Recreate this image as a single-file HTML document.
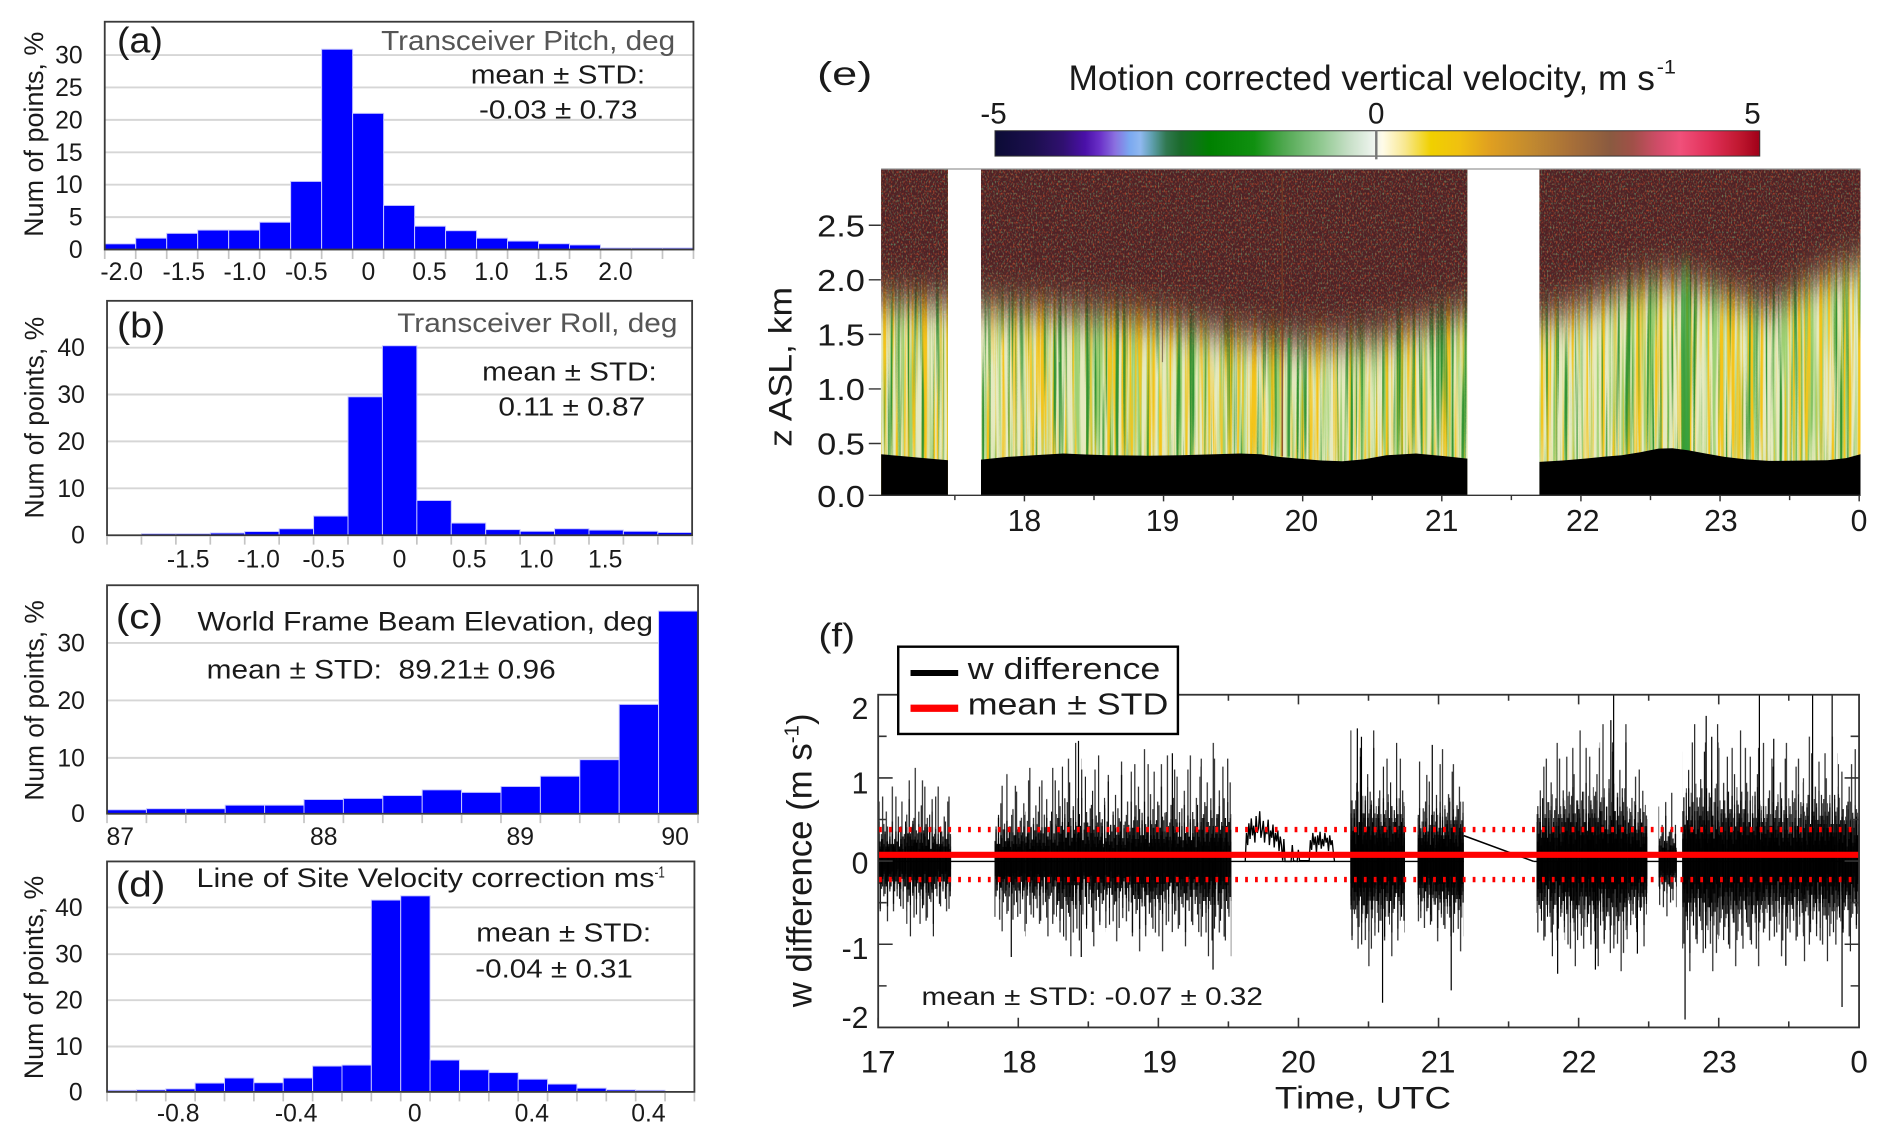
<!DOCTYPE html>
<html><head><meta charset="utf-8"><style>
html,body{margin:0;padding:0;background:#fff;}
svg{display:block;}
text{font-family:"Liberation Sans",Arial,sans-serif;fill:#1a1a1a;}
</style></head><body>
<svg width="1892" height="1142" viewBox="0 0 1568 946" preserveAspectRatio="none" xmlns="http://www.w3.org/2000/svg">
<defs>
<linearGradient id="cb" x1="0" y1="0" x2="1" y2="0">
<stop offset="0" stop-color="#0b0b35"/><stop offset=".051" stop-color="#1c0f4e"/><stop offset=".089" stop-color="#301070"/><stop offset=".118" stop-color="#4a10a8"/><stop offset=".137" stop-color="#6a30c8"/><stop offset=".157" stop-color="#8a70e0"/><stop offset=".176" stop-color="#7aa8f0"/><stop offset=".19" stop-color="#90b8f0"/><stop offset=".205" stop-color="#60a0b0"/><stop offset=".224" stop-color="#307850"/><stop offset=".243" stop-color="#1a6a2a"/><stop offset=".281" stop-color="#008000"/><stop offset=".339" stop-color="#109010"/><stop offset=".378" stop-color="#50a850"/><stop offset=".426" stop-color="#90c890"/><stop offset=".464" stop-color="#c8e0c8"/><stop offset=".495" stop-color="#eef4ee"/><stop offset=".507" stop-color="#fffbe8"/><stop offset=".536" stop-color="#f8e890"/><stop offset=".57" stop-color="#f0d000"/><stop offset=".608" stop-color="#f0c010"/><stop offset=".646" stop-color="#e0a020"/><stop offset=".704" stop-color="#c08830"/><stop offset=".752" stop-color="#a87038"/><stop offset=".805" stop-color="#8a5a40"/><stop offset=".834" stop-color="#a05048"/><stop offset=".867" stop-color="#d04c68"/><stop offset=".896" stop-color="#f0507a"/><stop offset=".935" stop-color="#e03058"/><stop offset=".973" stop-color="#c01830"/><stop offset="1" stop-color="#a00018"/>
</linearGradient>
<linearGradient id="gs" x1="0" y1="0" x2="0" y2="1">
<stop offset="0" stop-color="#2a9a34" stop-opacity="0"/><stop offset="0.25" stop-color="#2a9a34" stop-opacity="0.7"/><stop offset="1" stop-color="#2a9a34" stop-opacity="0.9"/>
</linearGradient>
<clipPath id="hm"><rect x="730.2" y="140.1" width="55.4" height="269.9"/><rect x="813" y="140.1" width="403.1" height="269.9"/><rect x="1275.8" y="140.1" width="266.1" height="269.9"/></clipPath>
<filter id="fY" x="0" y="0" width="1" height="1" color-interpolation-filters="sRGB">
<feTurbulence type="fractalNoise" baseFrequency="0.33 0.005" numOctaves="2" seed="4"/>
<feColorMatrix type="matrix" values="0 0 0 0 0.96  0 0 0 0 0.77  0 0 0 0 0.1  5 0 0 0 -2.4"/>
</filter>
<filter id="fL" x="0" y="0" width="1" height="1" color-interpolation-filters="sRGB">
<feTurbulence type="fractalNoise" baseFrequency="0.3 0.005" numOctaves="2" seed="17"/>
<feColorMatrix type="matrix" values="0 0 0 0 0.62  0 0 0 0 0.82  0 0 0 0 0.45  0 0 5 0 -2.4"/>
</filter>
<filter id="fG" x="0" y="0" width="1" height="1" color-interpolation-filters="sRGB">
<feTurbulence type="fractalNoise" baseFrequency="0.36 0.005" numOctaves="2" seed="11"/>
<feColorMatrix type="matrix" values="0 0 0 0 0.2  0 0 0 0 0.58  0 0 0 0 0.2  0 5 0 0 -2.7"/>
</filter>
<filter id="fS" x="0" y="0" width="1" height="1" color-interpolation-filters="sRGB">
<feTurbulence type="fractalNoise" baseFrequency="0.8 0.5" numOctaves="1" seed="21"/>
<feColorMatrix type="matrix" values="0 0 0 0 0.7  0 0 0 0 0.28  0 0 0 0 0.17  3.5 0 0 0 -1.8"/>
</filter>
<filter id="fS2" x="0" y="0" width="1" height="1" color-interpolation-filters="sRGB">
<feTurbulence type="fractalNoise" baseFrequency="0.8 0.5" numOctaves="1" seed="33"/>
<feColorMatrix type="matrix" values="0 0 0 0 0.38  0 0 0 0 0.52  0 0 0 0 0.38  0 3.5 0 0 -1.9"/>
</filter>
<filter id="blurV" filterUnits="userSpaceOnUse" x="700" y="60" width="900" height="420"><feGaussianBlur stdDeviation="3 16"/></filter>
<mask id="dm" maskUnits="userSpaceOnUse" x="700" y="60" width="900" height="420">
<path fill="#fff" filter="url(#blurV)" d="M700 60 L1600 60 L1600 222 L1542 220 L1525 226 L1508 232 L1490 242 L1475 250 L1466 255 L1450 250 L1435 246 L1420 240 L1405 236 L1390 234 L1374 234 L1358 238 L1344 242 L1328 248 L1313 254 L1295 260 L1276 264 L1246 264 L1216 260 L1200 264 L1180 270 L1160 276 L1140 281 L1110 284 L1080 284 L1050 282 L1020 278 L990 272 L960 267 L930 263 L900 261 L870 258 L840 256 L813 255 L800 253 L786 252 L760 251 L730 250 L700 250 Z"/>
</mask>
<clipPath id="fc"><rect x="727.8" y="575.5" width="812.9" height="275.6"/></clipPath>
<pattern id="P" patternUnits="userSpaceOnUse" x="0" y="0" width="19" height="946">
<path d="M0.5 689.5V734.3M1.5 672.3V730.8M2.5 699.8V751.5M3.5 651.6V741.2M4.5 692.9V765.3M5.5 682.6V727.4M6.5 630.9V737.7M7.5 696.4V779.1M8.5 675.7V734.3M9.5 692.9V748.1M10.5 661.9V730.8M11.5 699.8V758.4M12.5 644.7V744.6M13.5 686V796.3M14.5 696.4V734.3M15.5 668.8V751.5M16.5 689.5V730.8M17.5 610.2V741.2M18.5 692.9V772.2" stroke="#000" stroke-width="0.85"/>
</pattern>
<pattern id="Q" patternUnits="userSpaceOnUse" x="0" y="0" width="11" height="946">
<path d="M0.5 679.2V755M1.5 703.3V737.7M2.5 658.5V727.4M3.5 692.9V782.5M4.5 682.6V744.6M5.5 624V734.3M6.5 699.8V761.8M7.5 675.7V724M8.5 696.4V748.1M9.5 665.4V775.6M10.5 689.5V730.8" stroke="#000" stroke-width="0.85"/>
</pattern>
<pattern id="R" patternUnits="userSpaceOnUse" x="0" y="0" width="23" height="946">
<path d="M0.5 692.9V741.2M1.5 682.6V730.8M2.5 699.8V748.1M3.5 675.7V737.7M4.5 689.5V734.3M5.5 696.4V754.9M6.5 679.2V741.2M7.5 686V727.4M8.5 672.3V744.6M9.5 696.4V737.7M10.5 689.5V751.5M11.5 679.2V730.8M12.5 699.8V741.2M13.5 682.6V748.1M14.5 692.9V730.8M15.5 675.7V744.6M16.5 686V734.3M17.5 696.4V751.5M18.5 682.6V737.7M19.5 689.5V727.4M20.5 672.3V748.1M21.5 692.9V741.2M22.5 686V734.3" stroke="#000" stroke-width="0.85"/>
</pattern>
<pattern id="S" patternUnits="userSpaceOnUse" x="0" y="0" width="17" height="946">
<path d="M0.5 675.7V744.6M1.5 665.4V737.7M2.5 686V758.4M3.5 658.5V748.1M4.5 682.6V765.3M5.5 672.3V741.2M6.5 689.5V751.5M7.5 661.9V754.9M8.5 679.2V737.7M9.5 668.8V761.8M10.5 686V744.6M11.5 655V748.1M12.5 675.7V768.7M13.5 682.6V741.2M14.5 665.4V751.5M15.5 679.2V758.4M16.5 672.3V744.6" stroke="#000" stroke-width="0.6"/>
</pattern>
</defs>

<rect x="0" y="0" width="1568" height="946" fill="#fff"/>

<!-- ============ Panel (a) ============ -->
<g stroke="#d6d6d6" stroke-width="1.6">
<path d="M86.8 179.85H574.7M86.8 153H574.7M86.8 126.15H574.7M86.8 99.3H574.7M86.8 72.45H574.7M86.8 45.6H574.7"/>
</g>
<g fill="#0000ff" stroke="#c8c8ff" stroke-width="0.8">
<rect x="86.8" y="202" width="25.68" height="4.7"/><rect x="112.48" y="197.3" width="25.68" height="9.4"/><rect x="138.16" y="193.3" width="25.68" height="13.4"/><rect x="163.84" y="190.6" width="25.68" height="16.1"/><rect x="189.52" y="190.6" width="25.68" height="16.1"/><rect x="215.2" y="184.1" width="25.68" height="22.6"/><rect x="240.88" y="150.3" width="25.68" height="56.4"/><rect x="266.56" y="40.8" width="25.68" height="165.9"/><rect x="292.24" y="93.9" width="25.68" height="112.8"/><rect x="317.92" y="170.2" width="25.68" height="36.5"/><rect x="343.6" y="187.4" width="25.68" height="19.3"/><rect x="369.28" y="191.1" width="25.68" height="15.6"/><rect x="394.96" y="197.3" width="25.68" height="9.4"/><rect x="420.64" y="199.7" width="25.68" height="7"/><rect x="446.32" y="201.9" width="25.68" height="4.8"/><rect x="472" y="202.9" width="25.68" height="3.8"/><rect x="497.68" y="205.4" width="25.68" height="1.3"/><rect x="523.36" y="205.4" width="25.68" height="1.3"/><rect x="549.04" y="205.4" width="25.68" height="1.3"/>
</g>
<rect x="86.8" y="18" width="487.9" height="188.7" fill="none" stroke="#3a3a3a" stroke-width="1.5"/>
<path d="M86.8 207.5v7M112.48 207.5v7M138.16 207.5v7M163.84 207.5v7M189.52 207.5v7M215.2 207.5v7M240.88 207.5v7M266.56 207.5v7M292.24 207.5v7M317.92 207.5v7M343.6 207.5v7M369.28 207.5v7M394.96 207.5v7M420.64 207.5v7M446.32 207.5v7M472 207.5v7M497.68 207.5v7M523.36 207.5v7M549.04 207.5v7M574.72 207.5v7" stroke="#c4c4c4" stroke-width="1.4"/>
<g font-size="20.5" text-anchor="end">
<text x="68.5" y="213.7">0</text><text x="68.5" y="186.9">5</text><text x="68.5" y="160">10</text><text x="68.5" y="133.2">15</text><text x="68.5" y="106.3">20</text><text x="68.5" y="79.5">25</text><text x="68.5" y="52.6">30</text>
</g>
<g font-size="20.5" text-anchor="middle">
<text x="100.9" y="232">-2.0</text><text x="152.3" y="232">-1.5</text><text x="202.9" y="232">-1.0</text><text x="253.9" y="232">-0.5</text><text x="305.3" y="232">0</text><text x="355.9" y="232">0.5</text><text x="407.3" y="232">1.0</text><text x="456.7" y="232">1.5</text><text x="510" y="232">2.0</text>
</g>
<text transform="translate(35.5 111.2) rotate(-90)" font-size="22" text-anchor="middle" textLength="170" lengthAdjust="spacingAndGlyphs">Num of points, %</text>
<text x="97" y="43.4" font-size="30" textLength="38" lengthAdjust="spacingAndGlyphs">(a)</text>
<text x="315.9" y="41.4" font-size="23" style="fill:#555" textLength="243.6" lengthAdjust="spacingAndGlyphs">Transceiver Pitch, deg</text>
<text x="390.1" y="69.1" font-size="21.5" textLength="144.6" lengthAdjust="spacingAndGlyphs">mean ± STD:</text>
<text x="397" y="98.1" font-size="21.5" textLength="131.3" lengthAdjust="spacingAndGlyphs">-0.03 ± 0.73</text>

<!-- ============ Panel (b) ============ -->
<g stroke="#d6d6d6" stroke-width="1.6">
<path d="M88.7 404.5H573.6M88.7 365.6H573.6M88.7 326.8H573.6M88.7 288H573.6"/>
</g>
<g fill="#0000ff" stroke="#c8c8ff" stroke-width="0.8">
<rect x="117.23" y="442.1" width="28.53" height="1.3"/><rect x="145.76" y="442.1" width="28.53" height="1.3"/><rect x="174.29" y="441.5" width="28.53" height="1.9"/><rect x="202.82" y="440.3" width="28.53" height="3.1"/><rect x="231.35" y="438" width="28.53" height="5.4"/><rect x="259.88" y="427.5" width="28.53" height="15.9"/><rect x="288.41" y="328.7" width="28.53" height="114.7"/><rect x="316.94" y="286.4" width="28.53" height="157"/><rect x="345.47" y="414.6" width="28.53" height="28.8"/><rect x="374" y="433.3" width="28.53" height="10.1"/><rect x="402.53" y="438.7" width="28.53" height="4.7"/><rect x="431.06" y="440.1" width="28.53" height="3.3"/><rect x="459.59" y="438" width="28.53" height="5.4"/><rect x="488.12" y="439.1" width="28.53" height="4.3"/><rect x="516.65" y="440.1" width="28.53" height="3.3"/><rect x="545.18" y="441.1" width="28.53" height="2.3"/>
</g>
<rect x="88.7" y="249.2" width="484.9" height="194.2" fill="none" stroke="#3a3a3a" stroke-width="1.5"/>
<path d="M88.7 444.2v7M117.23 444.2v7M145.76 444.2v7M174.29 444.2v7M202.82 444.2v7M231.35 444.2v7M259.88 444.2v7M288.41 444.2v7M316.94 444.2v7M345.47 444.2v7M374 444.2v7M402.53 444.2v7M431.06 444.2v7M459.59 444.2v7M488.12 444.2v7M516.65 444.2v7M545.18 444.2v7M573.71 444.2v7" stroke="#c4c4c4" stroke-width="1.4"/>
<g font-size="20.5" text-anchor="end">
<text x="70.4" y="450.4">0</text><text x="70.4" y="411.5">10</text><text x="70.4" y="372.6">20</text><text x="70.4" y="333.8">30</text><text x="70.4" y="295">40</text>
</g>
<g font-size="20.5" text-anchor="middle">
<text x="156" y="470">-1.5</text><text x="214.3" y="470">-1.0</text><text x="268.3" y="470">-0.5</text><text x="331.1" y="470">0</text><text x="389" y="470">0.5</text><text x="444.5" y="470">1.0</text><text x="501.6" y="470">1.5</text>
</g>
<text transform="translate(36 346) rotate(-90)" font-size="22" text-anchor="middle" textLength="167" lengthAdjust="spacingAndGlyphs">Num of points, %</text>
<text x="97" y="279.6" font-size="30" textLength="40" lengthAdjust="spacingAndGlyphs">(b)</text>
<text x="329.2" y="274.9" font-size="22" style="fill:#555" textLength="232.2" lengthAdjust="spacingAndGlyphs">Transceiver Roll, deg</text>
<text x="399.6" y="315" font-size="21.5" textLength="144.7" lengthAdjust="spacingAndGlyphs">mean ± STD:</text>
<text x="413" y="344" font-size="21.5" textLength="121.7" lengthAdjust="spacingAndGlyphs">0.11 ± 0.87</text>

<!-- ============ Panel (c) ============ -->
<g stroke="#d6d6d6" stroke-width="1.6">
<path d="M88.7 627.8H578.5M88.7 580.2H578.5M88.7 532.6H578.5"/>
</g>
<g fill="#0000ff" stroke="#c8c8ff" stroke-width="0.8">
<rect x="88.7" y="670.8" width="32.65" height="3.3"/><rect x="121.35" y="669.9" width="32.65" height="4.2"/><rect x="154" y="669.9" width="32.65" height="4.2"/><rect x="186.65" y="667" width="32.65" height="7.1"/><rect x="219.3" y="667" width="32.65" height="7.1"/><rect x="251.95" y="662.3" width="32.65" height="11.8"/><rect x="284.6" y="661.4" width="32.65" height="12.7"/><rect x="317.25" y="659" width="32.65" height="15.1"/><rect x="349.9" y="654.3" width="32.65" height="19.8"/><rect x="382.55" y="656.4" width="32.65" height="17.7"/><rect x="415.2" y="651.5" width="32.65" height="22.6"/><rect x="447.85" y="643" width="32.65" height="31.1"/><rect x="480.5" y="629.3" width="32.65" height="44.8"/><rect x="513.15" y="583.5" width="32.65" height="90.6"/><rect x="545.8" y="506.2" width="32.65" height="167.9"/>
</g>
<rect x="88.7" y="484.8" width="489.8" height="189.3" fill="none" stroke="#3a3a3a" stroke-width="1.5"/>
<path d="M88.7 674.9v7M121.35 674.9v7M154 674.9v7M186.65 674.9v7M219.3 674.9v7M251.95 674.9v7M284.6 674.9v7M317.25 674.9v7M349.9 674.9v7M382.55 674.9v7M415.2 674.9v7M447.85 674.9v7M480.5 674.9v7M513.15 674.9v7M545.8 674.9v7M578.45 674.9v7" stroke="#c4c4c4" stroke-width="1.4"/>
<g font-size="20.5" text-anchor="end">
<text x="70.4" y="681.1">0</text><text x="70.4" y="634.8">10</text><text x="70.4" y="587.2">20</text><text x="70.4" y="539.6">30</text>
</g>
<g font-size="20.5" text-anchor="middle">
<text x="99.7" y="700">87</text><text x="268.3" y="700">88</text><text x="431.2" y="700">89</text><text x="559.5" y="700">90</text>
</g>
<text transform="translate(36 580.2) rotate(-90)" font-size="22" text-anchor="middle" textLength="166" lengthAdjust="spacingAndGlyphs">Num of points, %</text>
<text x="96" y="520.5" font-size="29" textLength="39" lengthAdjust="spacingAndGlyphs">(c)</text>
<text x="163.7" y="522.1" font-size="22.5" textLength="377.5" lengthAdjust="spacingAndGlyphs">World Frame Beam Elevation, deg</text>
<text x="171.3" y="562.2" font-size="22" textLength="289.2" lengthAdjust="spacingAndGlyphs" xml:space="preserve">mean ± STD:  89.21± 0.96</text>

<!-- ============ Panel (d) ============ -->
<g stroke="#d6d6d6" stroke-width="1.6">
<path d="M88.7 866.9H575.5M88.7 828.5H575.5M88.7 790.4H575.5M88.7 751.7H575.5"/>
</g>
<g fill="#0000ff" stroke="#c8c8ff" stroke-width="0.8">
<rect x="88.7" y="903.2" width="24.34" height="1.3"/><rect x="113.04" y="902.8" width="24.34" height="1.7"/><rect x="137.38" y="902" width="24.34" height="2.5"/><rect x="161.72" y="897.2" width="24.34" height="7.3"/><rect x="186.06" y="893" width="24.34" height="11.5"/><rect x="210.4" y="896.9" width="24.34" height="7.6"/><rect x="234.74" y="893" width="24.34" height="11.5"/><rect x="259.08" y="883.1" width="24.34" height="21.4"/><rect x="283.42" y="882.3" width="24.34" height="22.2"/><rect x="307.76" y="745.6" width="24.34" height="158.9"/><rect x="332.1" y="742.1" width="24.34" height="162.4"/><rect x="356.44" y="878.1" width="24.34" height="26.4"/><rect x="380.78" y="886.2" width="24.34" height="18.3"/><rect x="405.12" y="888.5" width="24.34" height="16"/><rect x="429.46" y="894" width="24.34" height="10.5"/><rect x="453.8" y="898" width="24.34" height="6.5"/><rect x="478.14" y="901.4" width="24.34" height="3.1"/><rect x="502.48" y="902.8" width="24.34" height="1.7"/><rect x="526.82" y="903.2" width="24.34" height="1.3"/>
</g>
<rect x="88.7" y="713.6" width="486.8" height="190.9" fill="none" stroke="#3a3a3a" stroke-width="1.5"/>
<path d="M88.7 905.3v7M113.04 905.3v7M137.38 905.3v7M161.72 905.3v7M186.06 905.3v7M210.4 905.3v7M234.74 905.3v7M259.08 905.3v7M283.42 905.3v7M307.76 905.3v7M332.1 905.3v7M356.44 905.3v7M380.78 905.3v7M405.12 905.3v7M429.46 905.3v7M453.8 905.3v7M478.14 905.3v7M502.48 905.3v7M526.82 905.3v7M551.16 905.3v7M575.5 905.3v7" stroke="#c4c4c4" stroke-width="1.4"/>
<g font-size="20.5" text-anchor="end">
<text x="68.5" y="911.5">0</text><text x="68.5" y="873.9">10</text><text x="68.5" y="835.5">20</text><text x="68.5" y="797.4">30</text><text x="68.5" y="758.7">40</text>
</g>
<g font-size="20.5" text-anchor="middle">
<text x="147.7" y="929">-0.8</text><text x="245.5" y="929">-0.4</text><text x="343.7" y="929">0</text><text x="440.7" y="929">0.4</text><text x="537.4" y="929">0.4</text>
</g>
<text transform="translate(35.5 809.7) rotate(-90)" font-size="22" text-anchor="middle" textLength="168.6" lengthAdjust="spacingAndGlyphs">Num of points, %</text>
<text x="96" y="742.6" font-size="30" textLength="41" lengthAdjust="spacingAndGlyphs">(d)</text>
<text x="162.9" y="734.6" font-size="22" textLength="379.5" lengthAdjust="spacingAndGlyphs">Line of Site Velocity correction ms</text>
<text x="542.4" y="727" font-size="13" textLength="8.5" lengthAdjust="spacingAndGlyphs">-1</text>
<text x="394.7" y="780.1" font-size="21.5" textLength="145" lengthAdjust="spacingAndGlyphs">mean ± STD:</text>
<text x="393.9" y="809.7" font-size="21.5" textLength="130.6" lengthAdjust="spacingAndGlyphs">-0.04 ± 0.31</text>

<!-- ============ Panel (e) ============ -->
<text x="677.2" y="70.5" font-size="28" textLength="45.7" lengthAdjust="spacingAndGlyphs">(e)</text>
<text x="885.5" y="74.5" font-size="29" textLength="486" lengthAdjust="spacingAndGlyphs">Motion corrected vertical velocity, m s</text>
<text x="1373" y="61" font-size="16" textLength="16" lengthAdjust="spacingAndGlyphs">-1</text>
<g font-size="24.5" text-anchor="middle">
<text x="823.4" y="102.5">-5</text><text x="1140.6" y="102.5">0</text><text x="1452.4" y="102.5">5</text>
</g>
<rect x="824.6" y="108.3" width="633.8" height="21" fill="url(#cb)" stroke="#333" stroke-width="0.8"/>
<path d="M1140.6 108.3V132" stroke="#777" stroke-width="2"/>

<g clip-path="url(#hm)">
<rect x="730" y="140" width="812" height="270" fill="#e6eac0"/>
<rect x="730" y="140" width="812" height="270" fill="#000" filter="url(#fL)"/>
<rect x="730" y="140" width="812" height="270" fill="#000" filter="url(#fY)"/>
<rect x="730" y="140" width="812" height="270" fill="#000" filter="url(#fG)"/>
<g mask="url(#dm)">
<rect x="730" y="140" width="812" height="270" fill="#4f2226"/>
<rect x="730" y="140" width="812" height="270" fill="#000" filter="url(#fS)"/>
<rect x="730" y="140" width="812" height="270" fill="#000" filter="url(#fS2)"/>
</g>
<rect x="1393.5" y="205" width="7" height="170" fill="url(#gs)"/>
<path d="M1068 280V378" stroke="#2f8f3a" stroke-width="2" opacity="0.8"/>
<path d="M878.2 300V378" stroke="#2f8f3a" stroke-width="1.5" opacity="0.7"/>
<path d="M1062.7 145V378" stroke="#7a3a22" stroke-width="1.3" opacity="0.8"/>
<path d="M963.4 250V300" stroke="#5a3a30" stroke-width="1" opacity="0.6"/>
<path fill="#000" d="M730.2 410 L730.2 376.3 L750 378 L771.6 380 L786 381.3 L813 380.7 L835 378.5 L856.9 377.1 L881.2 375.7 L900 376.5 L917.8 377.1 L950 377.5 L978.6 377.1 L1000 376.5 L1027.4 375.7 L1045 376.3 L1060 378.5 L1076.1 379.9 L1095 381.5 L1112.6 382.1 L1130 380.5 L1149.1 377.1 L1173.5 375.7 L1197.8 377.9 L1216.1 379.9 L1275.8 382.6 L1295 381.5 L1313.5 379.9 L1330 378.3 L1344 377.1 L1360 374.5 L1374.4 371.6 L1386 371.3 L1398.8 373 L1414 375.8 L1429.2 378.5 L1447 380.5 L1465.8 381.8 L1490 381.6 L1514.5 381.3 L1530 379.5 L1541.9 376.3 L1541.9 410 Z"/>
</g>
<path d="M730.2 140H1542" stroke="#999" stroke-width="1"/>
<path d="M720 410.3H1542" stroke="#333" stroke-width="1.2"/>
<path d="M849 410.3v5M964.3 410.3v5M1079.6 410.3v5M1194.9 410.3v5M1310.2 410.3v5M1425.5 410.3v5M1540.8 410.3v5M791.35 410.3v4M906.65 410.3v4M1021.95 410.3v4M1137.25 410.3v4M1252.55 410.3v4M1367.85 410.3v4M1483.15 410.3v4" stroke="#333" stroke-width="1.2"/>
<path d="M720 186.6H730M720 231.8H730M720 277H730M720 322.2H730M720 367.4H730" stroke="#333" stroke-width="1.2"/>
<g font-size="25" text-anchor="end">
<text x="716.8" y="195.8" textLength="39.6" lengthAdjust="spacingAndGlyphs">2.5</text>
<text x="716.8" y="241" textLength="39.6" lengthAdjust="spacingAndGlyphs">2.0</text>
<text x="716.8" y="286.2" textLength="39.6" lengthAdjust="spacingAndGlyphs">1.5</text>
<text x="716.8" y="331.4" textLength="39.6" lengthAdjust="spacingAndGlyphs">1.0</text>
<text x="716.8" y="376.6" textLength="39.6" lengthAdjust="spacingAndGlyphs">0.5</text>
<text x="716.8" y="419.9" textLength="39.6" lengthAdjust="spacingAndGlyphs">0.0</text>
</g>
<g font-size="25" text-anchor="middle">
<text x="849" y="440">18</text><text x="963.4" y="440">19</text><text x="1078.5" y="440">20</text><text x="1194.8" y="440">21</text><text x="1311.7" y="440">22</text><text x="1426.2" y="440">23</text><text x="1540.7" y="440">0</text>
</g>
<text transform="translate(655.9 303.9) rotate(-90)" font-size="27" text-anchor="middle" textLength="132.6" lengthAdjust="spacingAndGlyphs">z ASL, km</text>

<!-- ============ Panel (f) ============ -->
<text x="678.3" y="535.4" font-size="28" textLength="30.3" lengthAdjust="spacingAndGlyphs">(f)</text>

<g clip-path="url(#fc)">
<path d="M727.8 713.6H1213.1M1271.1 713.6H1540.7" stroke="#000" stroke-width="1.2"/>
<path d="M1213.1 692.2L1271.1 713.6" stroke="#000" stroke-width="1.3"/>
<g transform="translate(0 285.44) scale(1 0.6)"><rect x="727.8" y="0" width="23.2" height="946" fill="url(#P)"/><rect x="727.8" y="0" width="23.2" height="946" fill="url(#Q)"/><rect x="727.8" y="0" width="23.2" height="946" fill="url(#R)"/></g>
<g transform="translate(0 178.4) scale(1 0.75)"><rect x="751" y="0" width="23.2" height="946" fill="url(#P)"/><rect x="751" y="0" width="23.2" height="946" fill="url(#Q)"/><rect x="751" y="0" width="23.2" height="946" fill="url(#R)"/></g>
<g transform="translate(0 285.44) scale(1 0.6)"><rect x="774.2" y="0" width="14" height="946" fill="url(#P)"/><rect x="774.2" y="0" width="14" height="946" fill="url(#Q)"/><rect x="774.2" y="0" width="14" height="946" fill="url(#R)"/></g>
<g transform="translate(0 214.08) scale(1 0.7)"><rect x="824.2" y="0" width="25.5" height="946" fill="url(#P)"/><rect x="824.2" y="0" width="25.5" height="946" fill="url(#Q)"/><rect x="824.2" y="0" width="25.5" height="946" fill="url(#R)"/></g>
<g transform="translate(0 178.4) scale(1 0.75)"><rect x="849.7" y="0" width="25.6" height="946" fill="url(#P)"/><rect x="849.7" y="0" width="25.6" height="946" fill="url(#Q)"/><rect x="849.7" y="0" width="25.6" height="946" fill="url(#R)"/></g>
<g transform="translate(0 35.68) scale(1 0.95)"><rect x="875.3" y="0" width="20.9" height="946" fill="url(#P)"/><rect x="875.3" y="0" width="20.9" height="946" fill="url(#Q)"/><rect x="875.3" y="0" width="20.9" height="946" fill="url(#R)"/></g>
<g transform="translate(0 107.04) scale(1 0.85)"><rect x="896.1" y="0" width="19.8" height="946" fill="url(#P)"/><rect x="896.1" y="0" width="19.8" height="946" fill="url(#Q)"/><rect x="896.1" y="0" width="19.8" height="946" fill="url(#R)"/></g>
<g transform="translate(0 142.72) scale(1 0.8)"><rect x="915.9" y="0" width="20.9" height="946" fill="url(#P)"/><rect x="915.9" y="0" width="20.9" height="946" fill="url(#Q)"/><rect x="915.9" y="0" width="20.9" height="946" fill="url(#R)"/></g>
<g transform="translate(0 71.36) scale(1 0.9)"><rect x="936.8" y="0" width="29" height="946" fill="url(#P)"/><rect x="936.8" y="0" width="29" height="946" fill="url(#Q)"/><rect x="936.8" y="0" width="29" height="946" fill="url(#R)"/></g>
<g transform="translate(0 107.04) scale(1 0.85)"><rect x="965.8" y="0" width="29" height="946" fill="url(#P)"/><rect x="965.8" y="0" width="29" height="946" fill="url(#Q)"/><rect x="965.8" y="0" width="29" height="946" fill="url(#R)"/></g>
<g transform="translate(0 35.68) scale(1 0.95)"><rect x="994.8" y="0" width="25.6" height="946" fill="url(#P)"/><rect x="994.8" y="0" width="25.6" height="946" fill="url(#Q)"/><rect x="994.8" y="0" width="25.6" height="946" fill="url(#R)"/></g>
<g transform="translate(0 -35.68) scale(1 1.05)"><rect x="1119.1" y="0" width="20.9" height="946" fill="url(#P)"/><rect x="1119.1" y="0" width="20.9" height="946" fill="url(#Q)"/><rect x="1119.1" y="0" width="20.9" height="946" fill="url(#R)"/><rect x="1119.1" y="0" width="20.9" height="946" fill="url(#S)"/></g>
<g transform="translate(0 35.68) scale(1 0.95)"><rect x="1140" y="0" width="24.4" height="946" fill="url(#P)"/><rect x="1140" y="0" width="24.4" height="946" fill="url(#Q)"/><rect x="1140" y="0" width="24.4" height="946" fill="url(#R)"/><rect x="1140" y="0" width="24.4" height="946" fill="url(#S)"/></g>
<g transform="translate(0 142.72) scale(1 0.8)"><rect x="1174.8" y="0" width="17.4" height="946" fill="url(#P)"/><rect x="1174.8" y="0" width="17.4" height="946" fill="url(#Q)"/><rect x="1174.8" y="0" width="17.4" height="946" fill="url(#R)"/><rect x="1174.8" y="0" width="17.4" height="946" fill="url(#S)"/></g>
<g transform="translate(0 71.36) scale(1 0.9)"><rect x="1192.2" y="0" width="20.9" height="946" fill="url(#P)"/><rect x="1192.2" y="0" width="20.9" height="946" fill="url(#Q)"/><rect x="1192.2" y="0" width="20.9" height="946" fill="url(#R)"/><rect x="1192.2" y="0" width="20.9" height="946" fill="url(#S)"/></g>
<g transform="translate(0 35.68) scale(1 0.95)"><rect x="1273.5" y="0" width="23.2" height="946" fill="url(#P)"/><rect x="1273.5" y="0" width="23.2" height="946" fill="url(#Q)"/><rect x="1273.5" y="0" width="23.2" height="946" fill="url(#R)"/><rect x="1273.5" y="0" width="23.2" height="946" fill="url(#S)"/></g>
<g transform="translate(0 -35.68) scale(1 1.05)"><rect x="1296.7" y="0" width="29" height="946" fill="url(#P)"/><rect x="1296.7" y="0" width="29" height="946" fill="url(#Q)"/><rect x="1296.7" y="0" width="29" height="946" fill="url(#R)"/><rect x="1296.7" y="0" width="29" height="946" fill="url(#S)"/></g>
<g transform="translate(0 -71.36) scale(1 1.1)"><rect x="1325.7" y="0" width="23.3" height="946" fill="url(#P)"/><rect x="1325.7" y="0" width="23.3" height="946" fill="url(#Q)"/><rect x="1325.7" y="0" width="23.3" height="946" fill="url(#R)"/><rect x="1325.7" y="0" width="23.3" height="946" fill="url(#S)"/></g>
<g transform="translate(0 107.04) scale(1 0.85)"><rect x="1349" y="0" width="16.2" height="946" fill="url(#P)"/><rect x="1349" y="0" width="16.2" height="946" fill="url(#Q)"/><rect x="1349" y="0" width="16.2" height="946" fill="url(#R)"/><rect x="1349" y="0" width="16.2" height="946" fill="url(#S)"/></g>
<g transform="translate(0 321.12) scale(1 0.55)"><rect x="1374.5" y="0" width="15.1" height="946" fill="url(#P)"/><rect x="1374.5" y="0" width="15.1" height="946" fill="url(#Q)"/><rect x="1374.5" y="0" width="15.1" height="946" fill="url(#R)"/></g>
<g transform="translate(0 -71.36) scale(1 1.1)"><rect x="1394.2" y="0" width="30.2" height="946" fill="url(#P)"/><rect x="1394.2" y="0" width="30.2" height="946" fill="url(#Q)"/><rect x="1394.2" y="0" width="30.2" height="946" fill="url(#R)"/><rect x="1394.2" y="0" width="30.2" height="946" fill="url(#S)"/></g>
<g transform="translate(0 -35.68) scale(1 1.05)"><rect x="1424.4" y="0" width="34.8" height="946" fill="url(#P)"/><rect x="1424.4" y="0" width="34.8" height="946" fill="url(#Q)"/><rect x="1424.4" y="0" width="34.8" height="946" fill="url(#R)"/><rect x="1424.4" y="0" width="34.8" height="946" fill="url(#S)"/></g>
<g transform="translate(0 35.68) scale(1 0.95)"><rect x="1459.2" y="0" width="34.9" height="946" fill="url(#P)"/><rect x="1459.2" y="0" width="34.9" height="946" fill="url(#Q)"/><rect x="1459.2" y="0" width="34.9" height="946" fill="url(#R)"/><rect x="1459.2" y="0" width="34.9" height="946" fill="url(#S)"/></g>
<g><rect x="1494.1" y="0" width="29" height="946" fill="url(#P)"/><rect x="1494.1" y="0" width="29" height="946" fill="url(#Q)"/><rect x="1494.1" y="0" width="29" height="946" fill="url(#R)"/><rect x="1494.1" y="0" width="29" height="946" fill="url(#S)"/></g>
<g transform="translate(0 71.36) scale(1 0.9)"><rect x="1523.1" y="0" width="17.6" height="946" fill="url(#P)"/><rect x="1523.1" y="0" width="17.6" height="946" fill="url(#Q)"/><rect x="1523.1" y="0" width="17.6" height="946" fill="url(#R)"/><rect x="1523.1" y="0" width="17.6" height="946" fill="url(#S)"/></g>
<path d="M1337.3 713.6V575.5M1458.1 713.6V575.5M1502.2 713.6V575.5M1518.4 713.6V575.5M1124.9 713.6V603.4M1335 713.6V596.5M1414 713.6V593M893.8 713.6V613.7M1145.8 713.6V830.7M1202.7 713.6V820.4M1396.5 713.6V844.5M1526.6 713.6V834.2M1005.3 713.6V803.2M1290.9 713.6V806.6M1322.2 713.6V803.2M1128.3 713.6V610.3M838.1 713.6V792.8M896.1 713.6V792.8M971.6 713.6V624M1418.6 713.6V610.3M1187 713.6V617M1470 713.6V612M1480 713.6V800M1357 713.6V790" stroke="#000" stroke-width="1"/>
<path d="M1032 713.6 L1033 690 L1034 700 L1035 682 L1036 695 L1037 678 L1038 692 L1039 684 L1040 698 L1041 676 L1042 690 L1043 686 L1044 672 L1045 694 L1046 688 L1047 680 L1048 698 L1049 685 L1050 691 L1051 679 L1052 700 L1053 688 L1054 694 L1055 683 L1056 702 L1057 690 L1058 697 L1059 688 L1060 705 L1061 693 L1062 700 L1063 713 L1064 695 L1065 713.6 L1070 713.6 L1071 700 L1072 713 L1075 713.6 L1076 704 L1077 713 L1085 713 L1086 696 L1087 704 L1088 690 L1089 700 L1090 693 L1091 706 L1092 692 L1093 700 L1094 689 L1095 703 L1096 695 L1097 701 L1098 690 L1099 698 L1100 694 L1101 705 L1102 692 L1103 700 L1104 696 L1105 706 L1106 713.6" fill="none" stroke="#000" stroke-width="1.1"/>
<path d="M727.8 708.1H1540.7" stroke="#ff0000" stroke-width="5"/>
<path d="M728.5 687.2H1540.7M728.5 728.6H1540.7" stroke="#ff0000" stroke-width="4.5" stroke-dasharray="2.3 5.9"/>
</g>

<rect x="727.8" y="575.5" width="812.9" height="275.6" fill="none" stroke="#333" stroke-width="1.5"/>
<path d="M727.8 851.1v-8M843.9 851.1v-8M960 851.1v-8M1076.1 851.1v-8M1192.2 851.1v-8M1308.3 851.1v-8M1424.4 851.1v-8M785.85 851.1v-5M901.95 851.1v-5M1018.05 851.1v-5M1134.15 851.1v-5M1250.25 851.1v-5M1366.35 851.1v-5M1482.45 851.1v-5M843.9 575.5v8M960 575.5v8M1076.1 575.5v8M1192.2 575.5v8M1308.3 575.5v8M1424.4 575.5v8M785.85 575.5v5M901.95 575.5v5M1018.05 575.5v5M1134.15 575.5v5M1250.25 575.5v5M1366.35 575.5v5M1482.45 575.5v5M727.8 644.4h12M727.8 713.3h12M727.8 782.2h12M727.8 609.95h7M727.8 678.85h7M727.8 747.75h7M727.8 816.65h7M1540.7 644.4h-12M1540.7 713.3h-12M1540.7 782.2h-12M1540.7 609.95h-7M1540.7 678.85h-7M1540.7 747.75h-7M1540.7 816.65h-7" stroke="#333" stroke-width="1.3"/>

<rect x="744.4" y="535.7" width="231.8" height="72.3" fill="#fff" stroke="#000" stroke-width="2"/>
<path d="M754.6 557.5H794.1" stroke="#000" stroke-width="5"/>
<path d="M754.6 586.7H794.1" stroke="#ff0000" stroke-width="6"/>
<text x="802" y="562.6" font-size="25" textLength="159.6" lengthAdjust="spacingAndGlyphs">w difference</text>
<text x="802" y="591.8" font-size="25" textLength="166.3" lengthAdjust="spacingAndGlyphs">mean ± STD</text>

<g font-size="25" text-anchor="end">
<text x="719.7" y="595.5">2</text><text x="719.7" y="657.5">1</text><text x="719.7" y="723.5">0</text><text x="719.7" y="794.5">-1</text><text x="719.7" y="851.4">-2</text>
</g>
<g font-size="26" text-anchor="middle">
<text x="727.8" y="888.4">17</text><text x="844.7" y="888.4">18</text><text x="961" y="888.4">19</text><text x="1076" y="888.4">20</text><text x="1191.8" y="888.4">21</text><text x="1308.7" y="888.4">22</text><text x="1425" y="888.4">23</text><text x="1540.7" y="888.4">0</text>
</g>
<text x="1056.6" y="918.4" font-size="26" textLength="146" lengthAdjust="spacingAndGlyphs">Time, UTC</text>
<text x="763.7" y="832.5" font-size="20.5" textLength="283" lengthAdjust="spacingAndGlyphs">mean ± STD: -0.07 ± 0.32</text>
<text transform="translate(672.7 712.7) rotate(-90)" font-size="28.8" text-anchor="middle">w difference (m s<tspan font-size="17" dy="-11">-1</tspan><tspan dy="11">)</tspan></text>
</svg>
</body></html>
